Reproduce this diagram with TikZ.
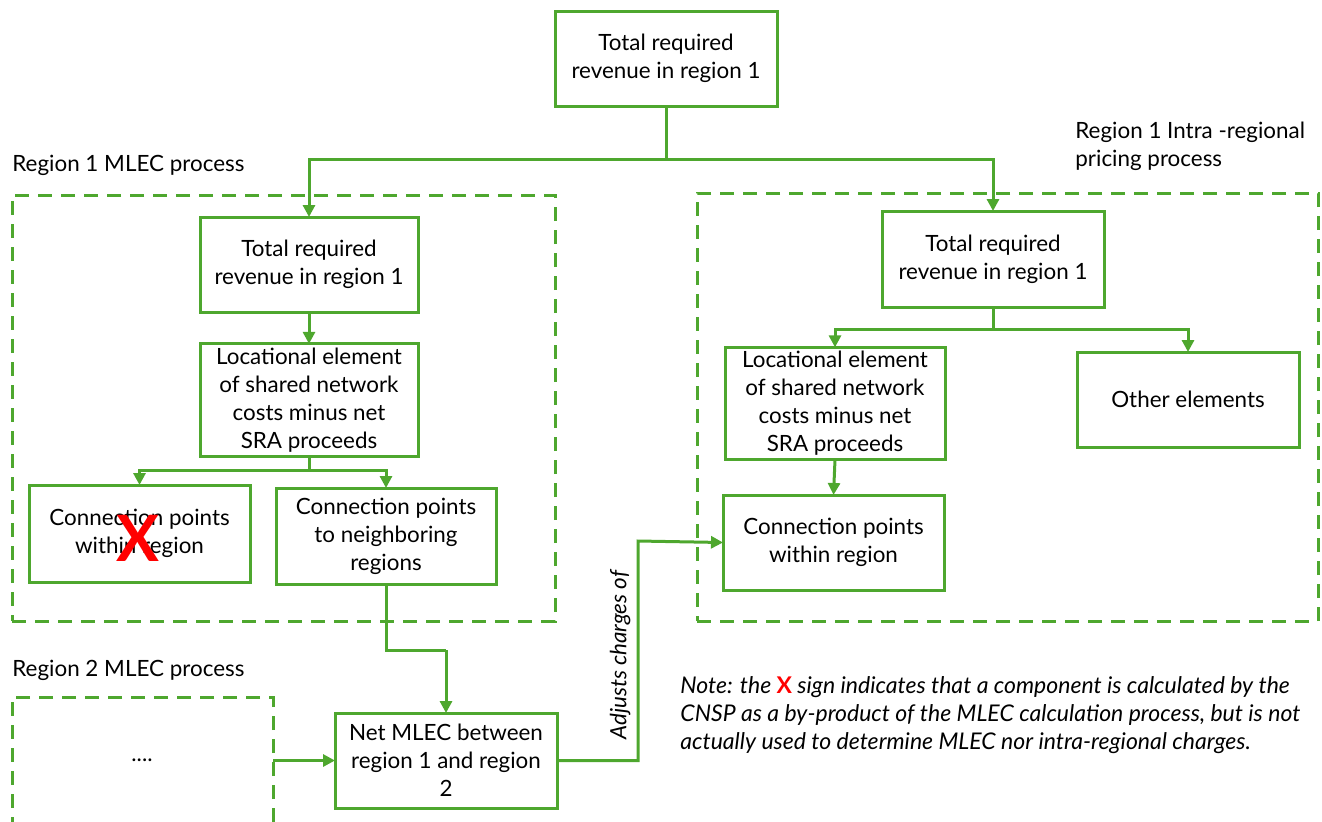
\documentclass[tikz,border=0pt]{standalone}
\usepackage{fontspec}
\setmainfont{Lato}
\usetikzlibrary{arrows.meta}
\definecolor{grn}{HTML}{4EA72E}
\definecolor{xred}{HTML}{FF0000}
\newcommand{\mainsz}{\fontsize{11.2}{14}\selectfont}
\tikzset{
  box/.style={draw=grn, line width=1.5pt, align=center, inner sep=2pt, outer sep=0pt,
    font=\mainsz, text=black},
  dashbox/.style={draw=grn, line width=1.5pt, dash pattern=on 7pt off 4.5pt, outer sep=0pt, inner sep=0pt},
  conn/.style={draw=grn, line width=1.5pt},
  arr/.style={conn, -{Triangle[length=6pt,width=6pt]}},
  lbl/.style={font=\mainsz, inner sep=0pt, anchor=west, align=left, text=black},
}
\begin{document}
\begin{tikzpicture}[x=0.5pt,y=-0.5pt]
\useasboundingbox (0,0) rectangle (1322,821);
\clip (0,0) rectangle (1322,821);
% dashed containers
\node[dashbox, minimum width=271.5pt, minimum height=213pt] (ldash) at (283.5,408) {};
\node[dashbox, minimum width=310.5pt, minimum height=214pt] (rdash) at (1007.5,407) {};
\node[dashbox, minimum width=130.5pt, minimum height=81.5pt] (r2) at (142.5,778.5) {};
% labels
\node[lbl] (l1) at (12,165) {Region 1 MLEC process};
\node[lbl] (l2) at (12,670) {Region 2 MLEC process};
\node[lbl] (l3) at (1075,146.5) {Region 1 Intra -regional\\pricing process};
\node[font=\mainsz] (dots) at (142,760) {....};
% boxes
\node[box, minimum width=111pt, minimum height=47.5pt] (top) at (666,58.5) {Total required\\revenue in region 1};
\node[box, minimum width=109pt, minimum height=47.5pt] (ltot) at (309,264.5) {Total required\\revenue in region 1};
\node[box, minimum width=109pt, minimum height=53pt] (lloc) at (309,400) {Locational element\\of shared network\\costs minus net\\SRA proceeds};
\node[box, minimum width=110.5pt, minimum height=48.5pt] (lwin) at (139.5,533.5) {Connection points\\within region};
\node[box, minimum width=110pt, minimum height=48pt] (lnbr) at (386,536) {Connection points\\to neighboring\\regions};
\node[box, minimum width=111pt, minimum height=47.5pt] (net) at (446,760.5) {Net MLEC between\\region 1 and region\\2};
\node[box, minimum width=111pt, minimum height=48pt] (rtot) at (993,259) {Total required\\revenue in region 1};
\node[box, minimum width=110pt, minimum height=53.5pt] (rloc) at (835,403.5) {Locational element\\of shared network\\costs minus net\\SRA proceeds};
\node[box, minimum width=111pt, minimum height=47.5pt] (oth) at (1188,399.5) {Other elements};
\node[box, minimum width=110.5pt, minimum height=47.5pt] (rconn) at (833.5,542.5) {Connection points\\within region};
% red cross
\node[text=xred, font=\fontsize{32}{32}\selectfont\bfseries, inner sep=0pt] (cross) at (138,538) {X};
% connectors
\coordinate (j1) at (666,159);
\draw[conn] (top.south) -- (j1);
\draw[arr] (j1) -| (ltot.north);
\draw[arr] (j1) -| (rtot.north);
\draw[arr] (ltot.south) -- (lloc.north);
\coordinate (j2) at (309,470);
\draw[conn] (lloc.south) -- (j2);
\draw[arr] (j2) -| (lwin.north);
\draw[arr] (j2) -| (lnbr.north);
\coordinate (j3) at (993,329);
\draw[conn] (rtot.south) -- (j3);
\draw[arr] (j3) -| (rloc.north);
\draw[arr] (j3) -| (oth.north);
\draw[arr] (rloc.south) -- (rconn.north);
\coordinate (k2) at (446,650);
\draw[conn] (lnbr.south) |- (k2);
\draw[arr] (k2) -- (net.north);
\draw[arr] (net.west -| r2.east) -- (net.west);
\coordinate (a1) at (638,760.5);
\coordinate (a2) at (638,541);
\draw[arr] (net.east) -- (a1) -- node[pos=0.48, rotate=90, above, font=\mainsz\itshape, text=black, inner sep=3pt] (adj) {Adjusts charges of} (a2) -- (rconn.west);
% note
\node[lbl, font=\fontsize{11.5}{14}\selectfont\itshape, anchor=north west] (note) at (680,676) {Note: the {\upshape\bfseries\color{xred}X} sign indicates that a component is calculated by the\\CNSP as a by-product of the MLEC calculation process, but is not\\actually used to determine MLEC nor intra-regional charges.};
\end{tikzpicture}
\end{document}
